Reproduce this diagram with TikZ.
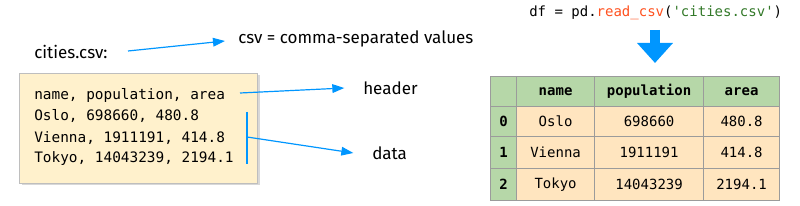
\documentclass[tikz,border=0pt]{standalone}
\usepackage{fontspec}
\setmainfont{Fira Sans}
\setmonofont{DejaVu Sans Mono}
\usetikzlibrary{arrows.meta,shadows}
\definecolor{arrblue}{RGB}{0,150,255}
\definecolor{boxfill}{RGB}{255,241,204}
\definecolor{boxline}{RGB}{190,190,190}
\definecolor{tabgreen}{RGB}{182,215,168}
\definecolor{tabcell}{RGB}{255,229,191}
\definecolor{gridgray}{RGB}{155,155,155}
\definecolor{codeorange}{RGB}{255,80,30}
\definecolor{codegreen}{RGB}{50,120,40}
\begin{document}
\begin{tikzpicture}[x=0.75pt,y=-0.75pt,
  sanslabel/.style={anchor=west,inner sep=0pt,font=\fontsize{12.75}{15}\selectfont},
  monoline/.style={anchor=west,inner sep=0pt,font=\ttfamily\fontsize{10.8}{13}\selectfont},
  thinarrow/.style={draw=arrblue,line width=0.9pt,-{Triangle[length=9pt,width=6.5pt]}},
  bigarrow/.style={draw=arrblue,line width=7.5pt,-{Triangle[length=15pt,width=26pt]}},
  cellbase/.style={draw=gridgray,line width=0.9pt,anchor=north west,inner sep=0pt,
    font=\ttfamily\fontsize{10.5}{12}\selectfont},
  hcell/.style={cellbase,fill=tabgreen},
  dcell/.style={cellbase,fill=tabcell}
]
\useasboundingbox (0,0) rectangle (800,206);

% csv file label and definition
\node[sanslabel] (fname) at (34,52) {cities.csv:};
\node[sanslabel] (csvdef) at (238,39) {csv = comma-separated values};
\coordinate (fnA) at (128,51);
\draw[thinarrow] (fnA) -- ([xshift=-9.75pt,yshift=-1.5pt]csvdef.west);

% csv file box
\node[anchor=north west,draw=boxline,fill=boxfill,line width=0.75pt,
  minimum width=178.5pt,minimum height=82.5pt,inner sep=0pt,
  drop shadow={shadow xshift=1.5pt,shadow yshift=-1.5pt,fill=black!30}] (box) at (19,73) {};
\node[monoline] (l0) at (34,95) {name, population, area};
\node[monoline] (l1) at (34,116) {Oslo, 698660, 480.8};
\node[monoline] (l2) at (34,138) {Vienna, 1911191, 414.8};
\node[monoline] (l3) at (34,159) {Tokyo, 14043239, 2194.1};

% header / data annotations
\node[sanslabel] (hdr) at (363,88) {header};
\node[sanslabel] (dat) at (372,153) {data};
\coordinate (hA) at (240,93);
\draw[thinarrow] (hA) -- ([xshift=-14pt]hdr.west);
\coordinate (vtop) at (247,112);
\coordinate (vbot) at (247,164);
\coordinate (vmid) at (247,137);
\draw[draw=arrblue,line width=0.9pt] (vtop) -- (vbot);
\draw[thinarrow] (vmid) -- ([xshift=-14pt]dat.west);

% pandas code
\node[anchor=west,inner sep=0pt,font=\ttfamily\fontsize{10.5}{12}\selectfont] (code) at (529,13)
  {df = pd.\textcolor{codeorange}{read\_csv}(\textcolor{codegreen}{'cities.csv'})};
\coordinate (atop) at (655,30);
\coordinate (abot) at (655,63);
\draw[bigarrow] (atop) -- (abot);

% table
\def\ra{76}\def\rb{106}\def\rc{136}\def\rd{168}
\def\ca{490}\def\cb{516}\def\cc{594}\def\cd{703}
% header row
\node[hcell,minimum width=19.5pt,minimum height=22.5pt] (h0) at (\ca,\ra) {};
\node[hcell,minimum width=58.5pt,minimum height=22.5pt] (h1) at (\cb,\ra) {\textbf{name}};
\node[hcell,minimum width=81.75pt,minimum height=22.5pt] (h2) at (\cc,\ra) {\textbf{population}};
\node[hcell,minimum width=57pt,minimum height=22.5pt] (h3) at (\cd,\ra) {\textbf{area}};
% row 0
\node[hcell,minimum width=19.5pt,minimum height=22.5pt] (r0i) at (\ca,\rb) {\textbf{0}};
\node[dcell,minimum width=58.5pt,minimum height=22.5pt] (r0a) at (\cb,\rb) {Oslo};
\node[dcell,minimum width=81.75pt,minimum height=22.5pt] (r0b) at (\cc,\rb) {698660};
\node[dcell,minimum width=57pt,minimum height=22.5pt] (r0c) at (\cd,\rb) {480.8};
% row 1
\node[hcell,minimum width=19.5pt,minimum height=24pt] (r1i) at (\ca,\rc) {\textbf{1}};
\node[dcell,minimum width=58.5pt,minimum height=24pt] (r1a) at (\cb,\rc) {Vienna};
\node[dcell,minimum width=81.75pt,minimum height=24pt] (r1b) at (\cc,\rc) {1911191};
\node[dcell,minimum width=57pt,minimum height=24pt] (r1c) at (\cd,\rc) {414.8};
% row 2
\node[hcell,minimum width=19.5pt,minimum height=24pt] (r2i) at (\ca,\rd) {\textbf{2}};
\node[dcell,minimum width=58.5pt,minimum height=24pt] (r2a) at (\cb,\rd) {Tokyo};
\node[dcell,minimum width=81.75pt,minimum height=24pt] (r2b) at (\cc,\rd) {14043239};
\node[dcell,minimum width=57pt,minimum height=24pt] (r2c) at (\cd,\rd) {2194.1};
\end{tikzpicture}
\end{document}
